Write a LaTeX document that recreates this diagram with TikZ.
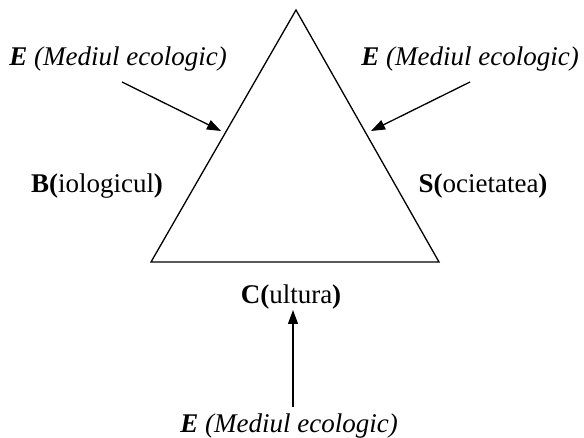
\documentclass[tikz,border=0pt]{standalone}
\usepackage{fontspec}
\setmainfont{Liberation Serif}
\usetikzlibrary{arrows.meta,positioning}

\begin{document}
\begin{tikzpicture}[
    x=1pt, y=-1pt,
    side/.style={draw=black, line width=1.3pt, line join=miter},
    arrow/.style={-{Triangle[length=14pt,width=10pt]}, line width=1.3pt},
    lbl/.style={anchor=base, inner sep=0pt, font=\fontsize{27}{31}\selectfont},
]
\useasboundingbox (0,0) rectangle (584,438);

% --- Triangle ---
\coordinate (top) at (296,10);
\coordinate (bl) at (151,262);
\coordinate (br) at (439,262);
\draw[side] (top) -- (bl) -- (br) -- cycle;

% --- Labels ---
\node[lbl] (bio) at (97,193) {\textbf{B(}iologicul\textbf{)}};
\node[lbl] (soc) at (483,193) {\textbf{S(}ocietatea\textbf{)}};
\node[lbl] (cult) at (291,304) {\textbf{C(}ultura\textbf{)}};

\node[lbl] (envl) at (118,66) {\textit{\textbf{E} (Mediul ecologic)}};
\node[lbl] (envr) at (470,66) {\textit{\textbf{E} (Mediul ecologic)}};
\node[lbl] (envb) at (289,432) {\textit{\textbf{E} (Mediul ecologic)}};

% --- Arrows ---
\coordinate (sl) at (122,82);
\coordinate (tl) at (221,131);
\coordinate (sr) at (470,82);
\coordinate (tr) at (371,131);
\coordinate (sb) at (293,407);
\coordinate (tb) at (293,310);
\draw[arrow] (sl) -- (tl);
\draw[arrow] (sr) -- (tr);
\draw[arrow] (sb) -- (tb);

\end{tikzpicture}
\end{document}
